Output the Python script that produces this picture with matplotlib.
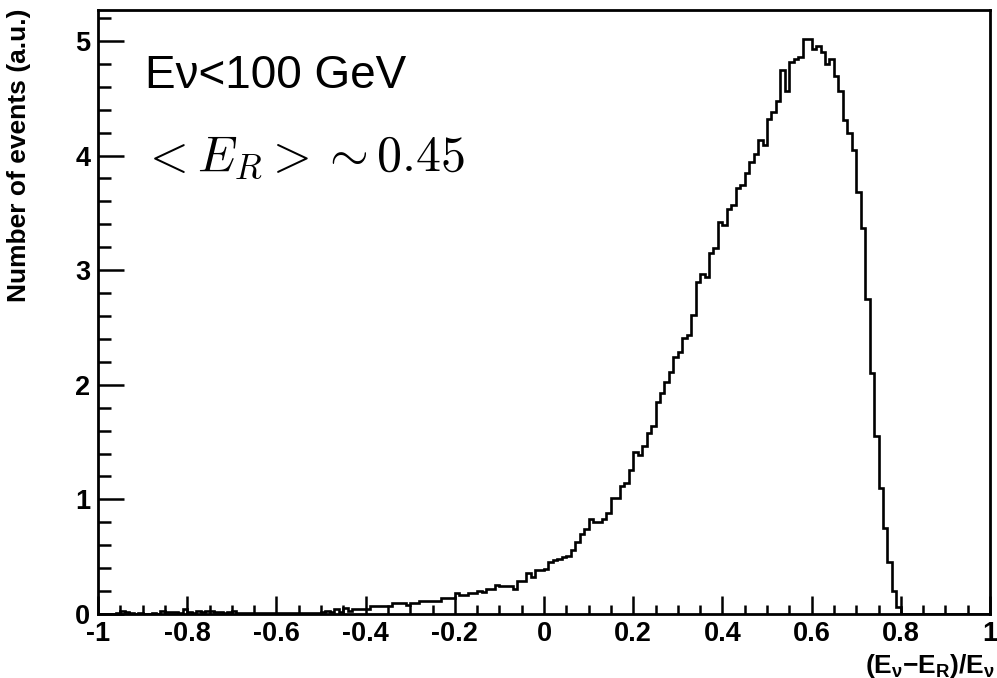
"""Reconstructed energy fraction histogram, E_nu < 100 GeV."""
import matplotlib
matplotlib.use("Agg")
import matplotlib.pyplot as plt
import numpy as np
from matplotlib.ticker import MultipleLocator, FuncFormatter

plt.rcParams["font.family"] = ["Liberation Sans", "DejaVu Sans"]
plt.rcParams["axes.unicode_minus"] = False
plt.rcParams["mathtext.fontset"] = "custom"
plt.rcParams["mathtext.rm"] = "Liberation Sans:bold"
plt.rcParams["mathtext.it"] = "Liberation Sans:italic:bold"
plt.rcParams["mathtext.bf"] = "Liberation Sans:bold"

X_MIN, X_MAX, N_BINS = -1.0, 1.0, 200

# bin contents, bins of width 0.01 starting at -1.00
tail_low = [  # -1.00 .. -0.48
    0.00, 0.00, 0.00, 0.00, 0.01, 0.03, 0.02, 0.01, 0.00, 0.01,
    0.00, 0.00, 0.01, 0.00, 0.03, 0.02, 0.02, 0.02, 0.01, 0.04,
    0.02, 0.01, 0.03, 0.02, 0.03, 0.03, 0.02, 0.02, 0.01, 0.02,
    0.03, 0.01, 0.01, 0.01, 0.01, 0.01, 0.01, 0.01, 0.01, 0.01,
    0.01, 0.01, 0.01, 0.01, 0.01, 0.01, 0.01, 0.01, 0.01, 0.01,
    0.02, 0.03, 0.02,
]
tail_mid = [  # -0.47 .. -0.01
    0.04, 0.02, 0.05, 0.03, 0.04, 0.04, 0.04, 0.04, 0.07, 0.07,
    0.07, 0.07, 0.07, 0.10, 0.10, 0.10, 0.08, 0.10, 0.10, 0.11,
    0.11, 0.11, 0.11, 0.11, 0.14, 0.14, 0.14, 0.18, 0.17, 0.17,
    0.18, 0.18, 0.20, 0.19, 0.22, 0.22, 0.25, 0.24, 0.24, 0.24,
    0.22, 0.29, 0.29, 0.36, 0.32, 0.38, 0.38,
]
rise = [  # 0.00 .. 0.49
    0.39, 0.45, 0.47, 0.48, 0.50, 0.51, 0.56, 0.63, 0.70, 0.74,
    0.83, 0.80, 0.80, 0.83, 0.88, 1.01, 1.01, 1.12, 1.14, 1.26,
    1.41, 1.39, 1.47, 1.58, 1.64, 1.85, 1.93, 2.02, 2.11, 2.24,
    2.29, 2.41, 2.43, 2.61, 2.90, 2.97, 2.94, 3.15, 3.19, 3.42,
    3.39, 3.53, 3.57, 3.72, 3.74, 3.85, 3.94, 4.01, 4.14, 4.09,
]
peak = [  # 0.50 .. 0.79
    4.32, 4.38, 4.48, 4.75, 4.56, 4.82, 4.84, 4.86, 5.02, 5.02,
    4.93, 4.96, 4.90, 4.80, 4.84, 4.69, 4.56, 4.31, 4.20, 4.05,
    3.68, 3.37, 2.75, 2.10, 1.55, 1.10, 0.75, 0.45, 0.20, 0.06,
]
tail_high = [0.0] * 20  # 0.80 .. 0.99

counts = np.array(tail_low + tail_mid + rise + peak + tail_high)
edges = np.linspace(X_MIN, X_MAX, N_BINS + 1)

fig = plt.figure(figsize=(9.97, 6.78), dpi=100)
ax = fig.add_axes([98 / 997, 64 / 678, 892 / 997, 604 / 678])

ax.stairs(counts, edges, color="black", linewidth=1.9)

ax.set_xlim(X_MIN, X_MAX)
ax.set_ylim(0, 5.27)

fmt = FuncFormatter(lambda v, p: f"{round(v, 2) + 0.0:g}")
ax.xaxis.set_major_locator(MultipleLocator(0.2))
ax.xaxis.set_minor_locator(MultipleLocator(0.05))
ax.yaxis.set_major_locator(MultipleLocator(1))
ax.yaxis.set_minor_locator(MultipleLocator(0.2))
ax.xaxis.set_major_formatter(fmt)
ax.yaxis.set_major_formatter(fmt)

for s in ax.spines.values():
    s.set_linewidth(2)
ax.tick_params(axis="both", which="both", direction="in", width=1.8,
               top=False, right=False, labelsize=19.5)
ax.tick_params(axis="x", which="major", length=13, pad=5)
ax.tick_params(axis="x", which="minor", length=6.5)
ax.tick_params(axis="y", which="major", length=19, pad=5.5)
ax.tick_params(axis="y", which="minor", length=9.5)
for lab in ax.get_xticklabels() + ax.get_yticklabels():
    lab.set_fontweight("bold")

fig.text(19 / 997, 1 - 8 / 678, "Number of events (a.u.)", rotation=90,
         ha="center", va="top", fontsize=19, fontweight="bold")
fig.text(995 / 997, 26 / 678, r"$\mathrm{(E_{\nu}{-}E_{R})/E_{\nu}}$",
         ha="right", va="top", fontsize=19)

ax.text(0.053, 0.871, "E\u03bd<100 GeV", transform=ax.transAxes,
        fontsize=33, ha="left", va="baseline")
ax.text(0.048, 0.735, r"$< E_R >\sim 0.45$", transform=ax.transAxes,
        fontsize=36, ha="left", va="baseline", math_fontfamily="cm")

fig.savefig("out.png", dpi=100)
